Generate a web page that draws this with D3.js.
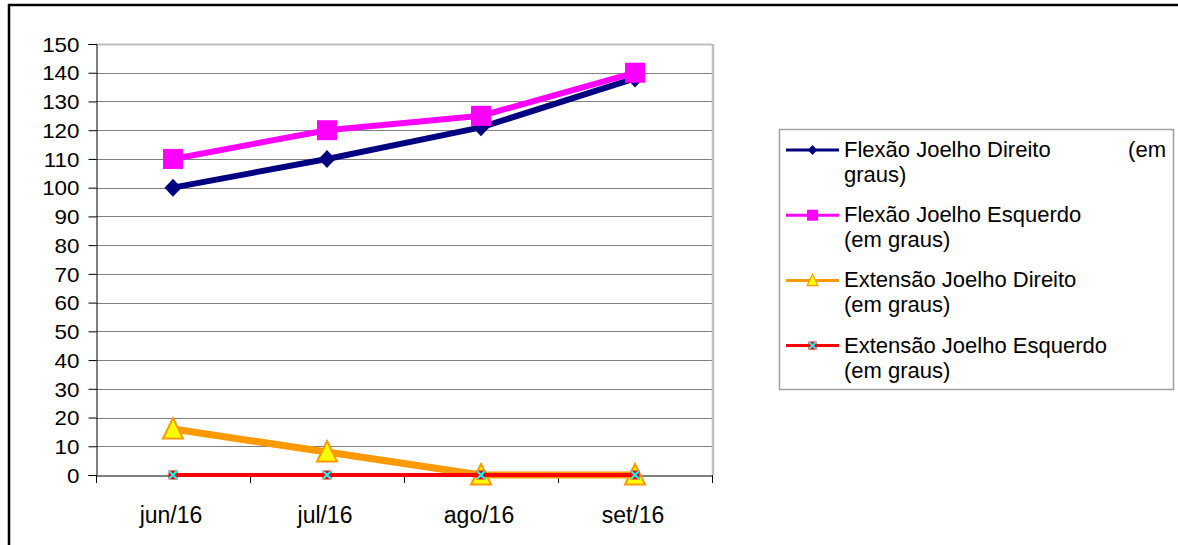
<!DOCTYPE html>
<html>
<head>
<meta charset="utf-8">
<script src="https://cdn.jsdelivr.net/npm/d3@7"></script>
<style>
  html, body { margin: 0; padding: 0; background: #fff; }
  svg { display: block; font-family: "Liberation Sans", Arial, sans-serif; }
</style>
</head>
<body>
<svg id="chart" width="1178" height="545"></svg>
<script>
// ---- data ----
const categories = ["jun/16", "jul/16", "ago/16", "set/16"];
const flexaoDireito = [100, 110, 121, 138];
const flexaoEsquerdo = [110, 120, 125, 140];
const extensaoDireito = [16, 8, 0, 0];
const extensaoEsquerdo = [0, 0, 0, 0];
const yTicks = [0, 10, 20, 30, 40, 50, 60, 70, 80, 90, 100, 110, 120, 130, 140, 150];
const seriesNames = [
  ["Flexão Joelho Direito", "graus)"],
  ["Flexão Joelho Esquerdo", "(em graus)"],
  ["Extensão Joelho Direito", "(em graus)"],
  ["Extensão Joelho Esquerdo", "(em graus)"]
];

const series = [
  { name: seriesNames[0], values: flexaoDireito, color: "#000080", width: 6, marker: "diamond" },
  { name: seriesNames[1], values: flexaoEsquerdo, color: "#FF00FF", width: 6, marker: "square" },
  { name: seriesNames[2], values: extensaoDireito, color: "#FF9900", width: 7, marker: "triangle" },
  { name: seriesNames[3], values: extensaoEsquerdo, color: "#FF0000", width: 4, marker: "x" }
];

const svg = d3.select("#chart");
const plot = { left: 96, right: 712, top: 44, bottom: 475 };

const x = d3.scaleBand().domain(categories).range([plot.left, plot.right]).padding(0);
const y = d3.scaleLinear().domain([0, 150]).range([plot.bottom, plot.top]);

// outer frame
svg.append("rect").attr("x", 9).attr("y", 5).attr("width", 1180).attr("height", 560)
  .attr("fill", "none").attr("stroke", "#000").attr("stroke-width", 2.5);

// gridlines
svg.append("g").selectAll("line").data(yTicks.filter(d => d > 0)).join("line")
  .attr("x1", plot.left).attr("x2", plot.right)
  .attr("y1", d => Math.round(y(d)) + 0.5).attr("y2", d => Math.round(y(d)) + 0.5)
  .attr("stroke", d => d === 150 ? "#c0c0c0" : "#808080").attr("stroke-width", d => d === 150 ? 2 : 1);

// plot right border
svg.append("line").attr("x1", plot.right + 1).attr("x2", plot.right + 1)
  .attr("y1", plot.top).attr("y2", plot.bottom)
  .attr("stroke", "#c0c0c0").attr("stroke-width", 2.5);

// y axis
const yAxis = d3.axisLeft(y).tickValues(yTicks).tickSize(8).tickPadding(16);
const gy = svg.append("g").attr("transform", `translate(${plot.left + 0.5},0)`).call(yAxis);
gy.select(".domain").attr("stroke", "#000");
gy.selectAll(".tick line").attr("stroke", "#000");
gy.selectAll(".tick text").attr("font-size", 20).attr("font-family", "Liberation Sans, Arial, sans-serif")
  .attr("fill", "#000").attr("dy", "0.36em").attr("transform", "scale(1.12,1)")
  .attr("x", -17 / 1.12);

// x axis
const xAxis = d3.axisBottom(x).tickSize(0).tickPadding(0).tickFormat(d => d);
const gx = svg.append("g").attr("transform", `translate(0,${plot.bottom + 0.5})`).call(xAxis);
gx.select(".domain").attr("stroke", "#000");
gx.selectAll(".tick text").attr("font-size", 23).attr("font-family", "Liberation Sans, Arial, sans-serif")
  .attr("fill", "#000").attr("y", 0).attr("dy", 47).attr("dx", -2);
// category boundary ticks
const bounds = categories.map(c => x(c)).concat([plot.right]);
svg.append("g").selectAll("line").data(bounds).join("line")
  .attr("x1", d => Math.round(d) + 0.5).attr("x2", d => Math.round(d) + 0.5)
  .attr("y1", plot.bottom).attr("y2", plot.bottom + 8).attr("stroke", "#000");

const cx = c => x(c) + x.bandwidth() / 2;

function drawMarker(g, type, px, py, s) {
  if (type === "diamond") {
    g.append("path").attr("d", `M${px},${py - 9*s}L${px + 8.5*s},${py}L${px},${py + 9*s}L${px - 8.5*s},${py}Z`)
      .attr("fill", "#000080");
  } else if (type === "square") {
    g.append("rect").attr("x", px - 10*s).attr("y", py - 10*s).attr("width", 20*s).attr("height", 20*s)
      .attr("fill", "#FF00FF");
  } else if (type === "triangle") {
    g.append("path").attr("d", `M${px},${py - 11*s}L${px + 10*s},${py + 9.5*s}L${px - 10*s},${py + 9.5*s}Z`)
      .attr("fill", "#FFFF00").attr("stroke", "#FF9900").attr("stroke-width", 2*s);
  } else if (type === "x") {
    g.append("rect").attr("x", px - 4.5*s).attr("y", py - 4.5*s).attr("width", 9*s).attr("height", 9*s)
      .attr("fill", "#FF0000");
    g.append("path").attr("d", `M${px - 4*s},${py - 4*s}L${px + 4*s},${py + 4*s}M${px + 4*s},${py - 4*s}L${px - 4*s},${py + 4*s}`)
      .attr("stroke", "#00FFFF").attr("stroke-width", 2*s);
  }
}

const line = d3.line().x((d, i) => cx(categories[i])).y(d => y(d));
series.forEach(s => {
  const g = svg.append("g");
  g.append("path").datum(s.values).attr("d", line)
    .attr("fill", "none").attr("stroke", s.color).attr("stroke-width", s.width)
    .attr("stroke-linejoin", "round");
  s.values.forEach((v, i) => drawMarker(g, s.marker, cx(categories[i]), y(v), 1));
});

// legend
const lg = svg.append("g");
lg.append("rect").attr("x", 779.5).attr("y", 129.5).attr("width", 394).attr("height", 260)
  .attr("fill", "#fff").attr("stroke", "#a0a0a0").attr("stroke-width", 1.5);
series.forEach((s, i) => {
  const base = 157 + i * 65.2;
  const ly = base - 7;
  lg.append("line").attr("x1", 786).attr("x2", 839).attr("y1", ly).attr("y2", ly)
    .attr("stroke", s.color).attr("stroke-width", 3);
  drawMarker(lg, s.marker, 812.5, ly, s.marker === "x" ? 0.9 : 0.55);
  lg.append("text").attr("x", 844).attr("y", base).attr("font-size", 22).attr("fill", "#000").text(s.name[0]);
  lg.append("text").attr("x", 844).attr("y", base + 25).attr("font-size", 22).attr("fill", "#000").text(s.name[1]);
  if (i === 0) {
    lg.append("text").attr("x", 1166).attr("y", base).attr("text-anchor", "end")
      .attr("font-size", 22).attr("fill", "#000").text("(em");
  }
});
</script>
</body>
</html>
